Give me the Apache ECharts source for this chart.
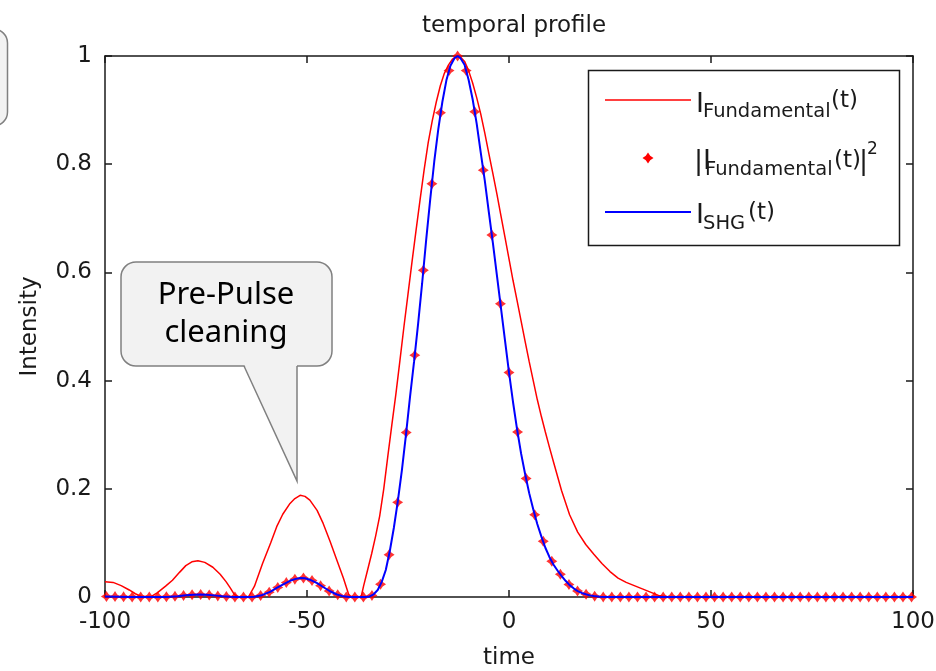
<!DOCTYPE html>
<html>
<head>
<meta charset="utf-8">
<script src="https://cdn.jsdelivr.net/npm/echarts@6/dist/echarts.min.js"></script>
<style>
  html, body { margin: 0; padding: 0; background: #ffffff; }
  #chart { width: 936px; height: 671px; }
</style>
</head>
<body>
<div id="chart"></div>
<script>
// Fundamental pulse intensity I(t)
const fundTime = [-100, -98, -96, -94, -92.5, -91, -88.5, -87, -85, -83.3, -81.5, -80, -78.5, -77, -75.3, -73.3, -71.5, -70, -69, -68, -67, -64.5, -63, -61, -59, -57.5, -56, -54.2, -53, -51.7, -50.5, -49.3, -47.5, -46, -44.3, -42.6, -41, -39.7, -39, -36.6, -36, -35, -34, -33, -32, -31, -30, -29, -28, -27, -26, -25, -24, -23, -22, -21, -20, -19, -18, -17, -16, -15, -14, -13, -12.7, -12, -11, -10, -9, -8, -7, -6, -5, -4, -3, -2, -1, 0, 1, 2, 3, 4, 5, 6, 7, 8, 9, 10, 11, 13, 15, 17, 19, 21, 23, 25, 27, 29, 31, 33, 35, 37, 39, 41, 100];
const fundIntensity = [0.028, 0.027, 0.021, 0.013, 0.006, 0.001, 0.001, 0.008, 0.02, 0.031, 0.046, 0.058, 0.065, 0.067, 0.064, 0.055, 0.042, 0.028, 0.017, 0.005, 0, 0, 0.02, 0.062, 0.1, 0.13, 0.153, 0.173, 0.182, 0.188, 0.186, 0.179, 0.16, 0.136, 0.103, 0.068, 0.035, 0.005, 0, 0, 0.02, 0.05, 0.08, 0.113, 0.15, 0.2, 0.26, 0.318, 0.375, 0.437, 0.5, 0.56, 0.62, 0.678, 0.735, 0.79, 0.84, 0.88, 0.915, 0.945, 0.968, 0.983, 0.994, 0.999, 1.0, 0.998, 0.99, 0.973, 0.95, 0.923, 0.893, 0.858, 0.82, 0.783, 0.745, 0.705, 0.665, 0.625, 0.585, 0.548, 0.51, 0.472, 0.435, 0.4, 0.365, 0.334, 0.305, 0.277, 0.25, 0.197, 0.152, 0.12, 0.097, 0.079, 0.062, 0.047, 0.035, 0.027, 0.021, 0.015, 0.009, 0.003, 0.0005, 0, 0];

// Second-harmonic intensity I_SHG(t)
const shgTime = [-100, -97, -94, -91, -88, -86, -84, -82, -80, -78, -76.5, -75, -73, -71, -69, -67.5, -64.5, -63, -61, -59, -57.5, -56, -54.2, -53, -51.7, -50.5, -49.3, -47.5, -46, -44.3, -42.6, -41, -39.5, -35.5, -34.5, -33.5, -32.5, -31.5, -30.5, -29.5, -28.5, -27.5, -26.5, -25.5, -24.5, -23.5, -22.5, -21.5, -20.5, -19.5, -18.5, -17.5, -16.5, -15.5, -14.5, -13.5, -12.7, -12, -11, -10, -9, -8, -7, -6, -5, -4, -3, -2, -1, 0, 1, 2, 3, 4, 5, 6, 7, 8, 9, 10, 11, 12, 13, 14, 15, 16, 17, 18, 19, 20, 21, 22.5, 24, 100];
const shgIntensity = [0.0008, 0.0006, 0.0002, 0, 0, 0.0001, 0.0006, 0.0015, 0.0034, 0.0043, 0.0045, 0.0042, 0.003, 0.0016, 0.0003, 0, 0, 0.0004, 0.0038, 0.01, 0.017, 0.023, 0.03, 0.033, 0.0353, 0.0346, 0.032, 0.0256, 0.0185, 0.0106, 0.0046, 0.0012, 0, 0, 0.001, 0.005, 0.013, 0.028, 0.05, 0.085, 0.128, 0.178, 0.235, 0.3, 0.37, 0.435, 0.505, 0.58, 0.66, 0.735, 0.805, 0.865, 0.915, 0.955, 0.982, 0.996, 1.0, 0.996, 0.984, 0.956, 0.92, 0.875, 0.822, 0.77, 0.712, 0.655, 0.595, 0.535, 0.475, 0.415, 0.36, 0.31, 0.265, 0.227, 0.192, 0.162, 0.135, 0.112, 0.091, 0.074, 0.06, 0.049, 0.039, 0.03, 0.022, 0.016, 0.011, 0.0075, 0.005, 0.003, 0.0017, 0.0006, 0, 0];

// Sampled |I(t)|^2
const markerTime = [-99.64, -97.52, -95.40, -93.28, -91.16, -89.04, -86.92, -84.80, -82.68, -80.56, -78.44, -76.32, -74.20, -72.08, -69.96, -67.84, -65.72, -63.60, -61.48, -59.36, -57.24, -55.12, -53.00, -50.88, -48.76, -46.64, -44.52, -42.40, -40.28, -38.16, -36.04, -33.92, -31.80, -29.68, -27.56, -25.44, -23.32, -21.20, -19.08, -16.96, -14.84, -12.72, -10.60, -8.48, -6.36, -4.24, -2.12, 0, 2.12, 4.24, 6.36, 8.48, 10.60, 12.72, 14.84, 16.96, 19.08, 21.20, 23.32, 25.44, 27.56, 29.68, 31.80, 33.92, 36.04, 38.16, 40.28, 42.40, 44.52, 46.64, 48.76, 50.88, 53.00, 55.12, 57.24, 59.36, 61.48, 63.60, 65.72, 67.84, 69.96, 72.08, 74.20, 76.32, 78.44, 80.56, 82.68, 84.80, 86.92, 89.04, 91.16, 93.28, 95.40, 97.52, 99.64];
const markerIntensity = [0.0008, 0.0007, 0.0003, 0.0001, 0, 0, 0.0001, 0.0004, 0.0012, 0.003, 0.0042, 0.0045, 0.0036, 0.002, 0.0008, 0, 0, 0.0001, 0.0027, 0.009, 0.0177, 0.0266, 0.033, 0.035, 0.0306, 0.021, 0.011, 0.0041, 0.0002, 0, 0, 0.003, 0.0235, 0.078, 0.175, 0.304, 0.447, 0.604, 0.764, 0.895, 0.973, 1.0, 0.973, 0.897, 0.789, 0.669, 0.542, 0.415, 0.305, 0.219, 0.152, 0.103, 0.066, 0.042, 0.023, 0.011, 0.005, 0.0016, 0.0002, 0, 0, 0, 0, 0, 0, 0, 0, 0, 0, 0, 0, 0, 0, 0, 0, 0, 0, 0, 0, 0, 0, 0, 0, 0, 0, 0, 0, 0, 0, 0, 0, 0, 0, 0, 0];

const xTickValues = [-100, -50, 0, 50, 100];
const yTickValues = [0, 0.2, 0.4, 0.6, 0.8, 1];

const pairs = (xs, ys) => xs.map((x, i) => [x, ys[i]]);

const ink = '#1a1a1a';
const font = 'DejaVu Sans';
const starPath = 'path://M0,-10 L4,-4 L10,0 L4,4 L0,10 L-4,4 L-10,0 L-4,-4 Z';

function axisBase(extra) {
  return Object.assign({
    type: 'value',
    axisLine: { show: true, onZero: false, lineStyle: { color: ink, width: 1.5 } },
    axisTick: { show: true, inside: true, length: 7, lineStyle: { color: ink, width: 1.5 } },
    splitLine: { show: false },
    axisLabel: { show: false }
  }, extra);
}

const xAxisBottom = axisBase({
  min: xTickValues[0], max: xTickValues[xTickValues.length - 1], interval: 50,
  position: 'bottom',
  axisLabel: { show: true, fontFamily: font, fontSize: 23, color: ink, margin: 14 },
  name: 'time', nameLocation: 'middle', nameGap: 50,
  nameTextStyle: { fontFamily: font, fontSize: 23, color: ink }
});
const xAxisTop = axisBase({ min: -100, max: 100, interval: 50, position: 'top' });
const yAxisLeft = axisBase({
  min: yTickValues[0], max: yTickValues[yTickValues.length - 1], interval: 0.2,
  position: 'left',
  axisLabel: { show: true, fontFamily: font, fontSize: 23, color: ink, margin: 13 },
  name: 'Intensity', nameLocation: 'middle', nameGap: 63,
  nameTextStyle: { fontFamily: font, fontSize: 23, color: ink }
});
const yAxisRight = axisBase({ min: 0, max: 1, interval: 0.2, position: 'right' });

const txt = (text, x, y, size) => ({
  type: 'text', x: x, y: y, silent: true,
  style: { text: text, fontFamily: font, fontSize: size, fill: ink, textVerticalAlign: 'middle', textAlign: 'left' }
});

const calloutFill = '#f2f2f2';
const calloutStroke = '#808080';

const option = {
  animation: false,
  backgroundColor: '#ffffff',
  title: {
    text: 'temporal profile', left: 509, top: 10, textAlign: 'center',
    textStyle: { fontFamily: font, fontSize: 23, fontWeight: 'normal', color: ink }
  },
  grid: { left: 105, right: 23, top: 56, bottom: 74, containLabel: false, outerBoundsMode: 'none' },
  xAxis: [xAxisBottom, xAxisTop],
  yAxis: [yAxisLeft, yAxisRight],
  series: [
    {
      name: 'I_Fundamental(t)', type: 'line', data: pairs(fundTime, fundIntensity),
      showSymbol: false, lineStyle: { color: '#ff0000', width: 1.5 }, z: 2, silent: true
    },
    {
      name: '|I_Fundamental(t)|^2', type: 'scatter', data: pairs(markerTime, markerIntensity),
      symbol: starPath, symbolSize: 11, itemStyle: { color: '#ff0000' }, z: 3, silent: true
    },
    {
      name: 'I_SHG(t)', type: 'line', data: pairs(shgTime, shgIntensity),
      showSymbol: false, lineStyle: { color: '#0000ff', width: 2 }, z: 4, silent: true
    }
  ],
  graphic: [
    // partially visible note box at the left edge
    { type: 'rect', shape: { x: -120, y: 29, width: 127.5, height: 97, r: 14 },
      style: { fill: calloutFill, stroke: calloutStroke, lineWidth: 1.5 }, silent: true, z: 10 },
    // pre-pulse callout
    { type: 'rect', shape: { x: 121, y: 262, width: 211, height: 104, r: 15 },
      style: { fill: calloutFill, stroke: calloutStroke, lineWidth: 1.5 }, silent: true, z: 10 },
    { type: 'polygon', shape: { points: [[244, 364], [297, 364], [297, 481]] },
      style: { fill: calloutFill, stroke: null }, silent: true, z: 11 },
    { type: 'polyline', shape: { points: [[244, 366], [297, 481], [297, 366]] },
      style: { fill: null, stroke: calloutStroke, lineWidth: 1.5 }, silent: true, z: 11 },
    { type: 'text', x: 226, y: 314, silent: true, z: 12,
      style: { text: 'Pre-Pulse\ncleaning', fontFamily: 'Noto Sans', fontSize: 31, lineHeight: 38,
        fill: '#000000', textAlign: 'center', textVerticalAlign: 'middle' } },
    // legend
    { type: 'group', z: 20, children: [
      { type: 'rect', shape: { x: 588.5, y: 70.5, width: 311, height: 175 },
        style: { fill: '#ffffff', stroke: ink, lineWidth: 1.5 }, silent: true },
      { type: 'line', shape: { x1: 605, y1: 100, x2: 691, y2: 100 },
        style: { stroke: '#ff0000', lineWidth: 1.5 }, silent: true },
      { type: 'polygon', shape: { points: [[648, 152.5], [650.2, 155.8], [653.5, 158], [650.2, 160.2], [648, 163.5], [645.8, 160.2], [642.5, 158], [645.8, 155.8]] },
        style: { fill: '#ff0000' }, silent: true },
      { type: 'line', shape: { x1: 605, y1: 212, x2: 691, y2: 212 },
        style: { stroke: '#0000ff', lineWidth: 2 }, silent: true },
      txt('I', 696, 105, 27),
      txt('Fundamental', 703, 112, 19.5),
      txt('(t)', 831, 101, 23),
      txt('|I', 694, 162, 27),
      txt('Fundamental', 705, 170, 19.5),
      txt('(t)', 834, 161, 23),
      txt('|', 859, 162, 27),
      txt('2', 867, 150, 17),
      txt('I', 696, 216, 27),
      txt('SHG', 703, 224, 19.5),
      txt('(t)', 748, 213, 23)
    ] }
  ]
};

const chart = echarts.init(document.getElementById('chart'), null, { renderer: 'canvas' });
chart.setOption(option);
</script>
</body>
</html>
